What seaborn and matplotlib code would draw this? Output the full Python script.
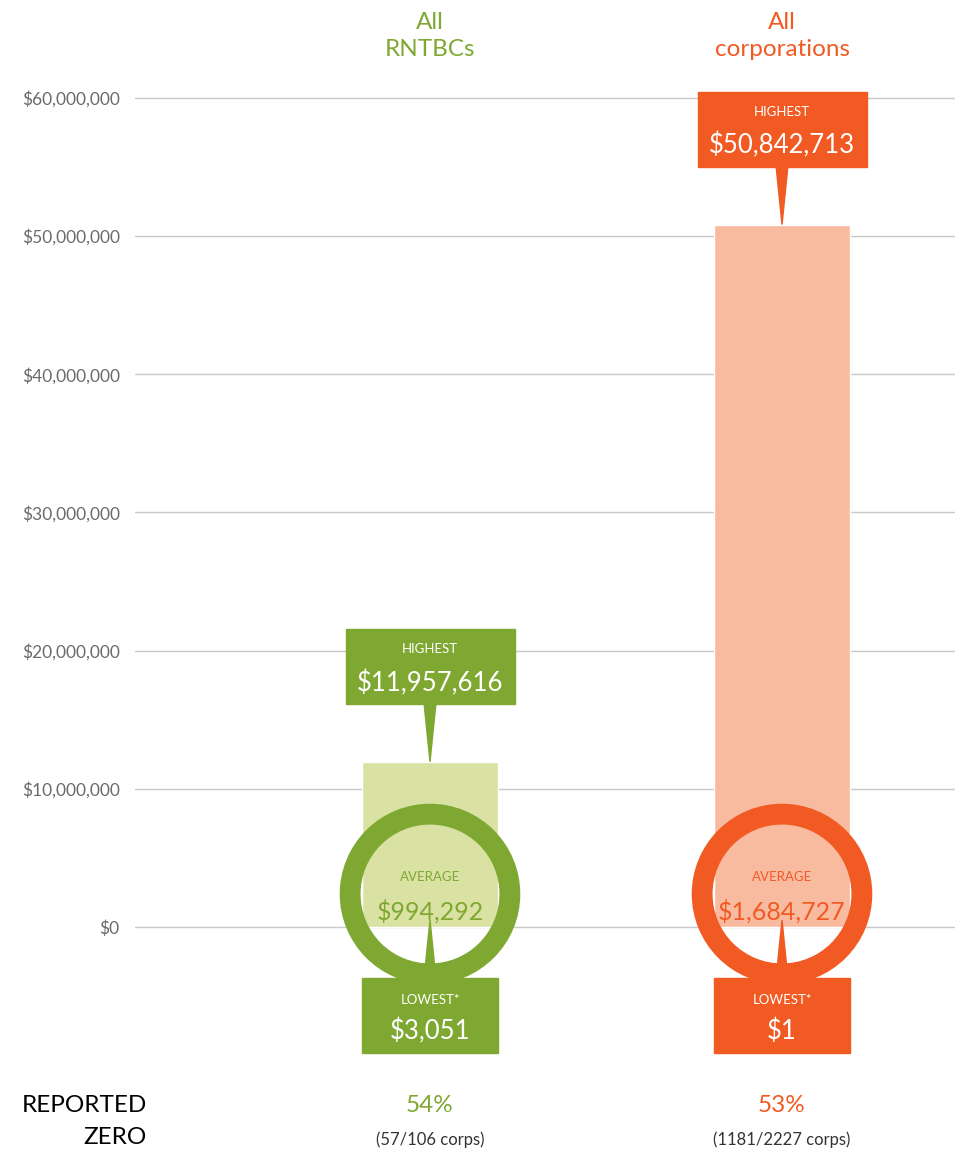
import numpy as np
import matplotlib
matplotlib.use("Agg")
import matplotlib.pyplot as plt
import seaborn as sns
from matplotlib.patches import Rectangle, Polygon

# =========================
# DATA
# =========================
groups = ["All\nRNTBCs", "All\ncorporations"]
highest = [11957616, 50842713]
average = [994292, 1684727]
lowest = [3051, 1]
zero_pct = ["54%", "53%"]
zero_counts = ["(57/106 corps)", "(1181/2227 corps)"]
yticks = [0, 10e6, 20e6, 30e6, 40e6, 50e6, 60e6]
ytick_labels = ["$0", "$10,000,000", "$20,000,000", "$30,000,000",
                "$40,000,000", "$50,000,000", "$60,000,000"]

# =========================
# STYLE
# =========================
dark = ["#7FA832", "#F15A22"]
light = ["#D9E1A3", "#F9BBA0"]
grey = "#6b6b6b"

sns.set_style("white")
plt.rcParams["font.family"] = ["Lato", "DejaVu Sans"]

W, H = 955, 1153
ZERO_PX = 927
PX_Y = 1e7 / 138.17          # data units per pixel (vertical)
PX_X = 1 / 352.0             # data units per pixel (horizontal)

fig = plt.figure(figsize=(W / 100, H / 100), dpi=100)
ax = fig.add_axes([135 / W, 0, 820 / W, 1])

# =========================
# BARS (highest value)
# =========================
sns.barplot(x=groups, y=highest, hue=groups, palette=light, width=136 * PX_X,
            legend=False, saturation=1, ax=ax, zorder=2)

ax.set_xlim(-(430 - 135) * PX_X, 1 + (955 - 782) * PX_X)
ax.set_ylim((ZERO_PX - H) * PX_Y, ZERO_PX * PX_Y)
ax.set_yticks(yticks)
ax.set_yticklabels(ytick_labels, fontsize=12.5, color=grey)
ax.tick_params(axis="y", length=0, pad=11)
ax.set_xticks([])
for s in ax.spines.values():
    s.set_visible(False)
for t in yticks:
    ax.axhline(t, color="#c8c8c8", lw=1, zorder=0)

box_w = 169 * PX_X
box_h = 75 * PX_Y
ptr_w = 12 * PX_X

for i in range(len(groups)):
    c = dark[i]
    # group title
    ax.text(i, (ZERO_PX - 36) * PX_Y, groups[i], ha="center", va="center",
            color=c, fontsize=17.5, linespacing=1.35)

    # highest callout
    b0 = highest[i] + 58 * PX_Y
    ax.add_patch(Rectangle((i - box_w / 2, b0), box_w, box_h, color=c, zorder=5))
    ax.add_patch(Polygon([(i - ptr_w / 2, b0 + 1 * PX_Y), (i + ptr_w / 2, b0 + 1 * PX_Y),
                          (i, highest[i])], closed=True, color=c, zorder=5))
    ax.text(i, b0 + 55 * PX_Y, "HIGHEST", ha="center", va="center",
            color="white", fontsize=9.5, zorder=6)
    ax.text(i, b0 + 21 * PX_Y, f"${highest[i]:,}", ha="center", va="center",
            color="white", fontsize=18.5, zorder=6)

    # average ring
    ax.scatter([i], [33 * PX_Y], s=115 ** 2, facecolors="none", edgecolors=c,
               linewidths=15, zorder=4)
    ax.text(i, 50 * PX_Y, "AVERAGE", ha="center", va="center",
            color=c, fontsize=9.5, zorder=6)
    ax.text(i, 16 * PX_Y, f"${average[i]:,}", ha="center", va="center",
            color=c, fontsize=18, zorder=6)

    # lowest callout
    lw_box = 136 * PX_X
    top = lowest[i] - 51 * PX_Y
    ax.add_patch(Rectangle((i - lw_box / 2, top - box_h), lw_box, box_h, color=c, zorder=5))
    ax.add_patch(Polygon([(i - ptr_w / 2, top - 1 * PX_Y), (i + ptr_w / 2, top - 1 * PX_Y),
                          (i, 7 * PX_Y)], closed=True, color=c, zorder=5))
    ax.text(i, top - 22 * PX_Y, "LOWEST*", ha="center", va="center",
            color="white", fontsize=9.5, zorder=6)
    ax.text(i, top - 53 * PX_Y, f"${lowest[i]:,}", ha="center", va="center",
            color="white", fontsize=18.5, zorder=6)

    # reported zero
    ax.text(i, (ZERO_PX - 1106) * PX_Y, zero_pct[i], ha="center", va="center",
            color=c, fontsize=17.5)
    ax.text(i, (ZERO_PX - 1140) * PX_Y, zero_counts[i], ha="center", va="center",
            color="#333333", fontsize=12)

fig.text(147 / W, 1 - 1106 / H, "REPORTED", ha="right", va="center",
         color="black", fontsize=17.5)
fig.text(147 / W, 1 - 1138 / H, "ZERO", ha="right", va="center",
         color="black", fontsize=17.5)

fig.savefig("out.png", dpi=100, facecolor="white")
